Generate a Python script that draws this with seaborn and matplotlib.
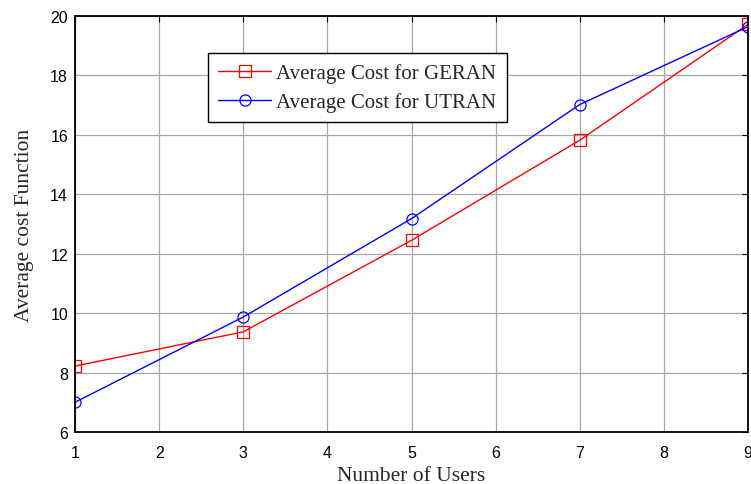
import matplotlib
matplotlib.use("Agg")
import matplotlib.pyplot as plt
import seaborn as sns
import pandas as pd

users = [1, 3, 5, 7, 9]
geran = [8.22, 9.37, 12.45, 15.82, 19.72]
utran = [7.0, 9.87, 13.18, 17.02, 19.64]
series_names = ["Average Cost for GERAN", "Average Cost for UTRAN"]
x_ticks = [1, 2, 3, 4, 5, 6, 7, 8, 9]
y_ticks = [6, 8, 10, 12, 14, 16, 18, 20]

df = pd.DataFrame({
    "users": users * 2,
    "cost": geran + utran,
    "series": [series_names[0]] * len(users) + [series_names[1]] * len(users),
})

sns.set_style("white")
plt.rcParams["font.family"] = ["Liberation Sans", "DejaVu Sans"]

fig = plt.figure(figsize=(7.51, 4.85), dpi=100)
ax = fig.add_axes([75 / 751, 52 / 485, 673 / 751, 416 / 485])

sns.lineplot(data=df, x="users", y="cost", hue="series", style="series",
             palette={series_names[0]: "#ff0000", series_names[1]: "#0000ff"},
             markers={series_names[0]: "s", series_names[1]: "o"},
             dashes=False, markersize=8, markerfacecolor="none",
             markeredgewidth=0.9, linewidth=1.0, ax=ax)

for line in ax.lines:
    line.set_markerfacecolor("none")
    line.set_markeredgecolor(line.get_color())

ax.set_xlim(1, 9)
ax.set_ylim(6, 20)
ax.set_xticks(x_ticks)
ax.set_yticks(y_ticks)
ax.grid(True, color="#a8a8a8", linewidth=0.9, linestyle="-")
ax.set_axisbelow(True)
for s in ax.spines.values():
    s.set_color("black")
    s.set_linewidth(1.3)
ax.tick_params(direction="in", length=4, width=0.8, labelsize=11.5,
               colors="black", top=True, right=True)
ax.tick_params(axis="x", pad=9.5)
ax.tick_params(axis="y", pad=5)
for lbl in ax.get_xticklabels() + ax.get_yticklabels():
    lbl.set_fontfamily(["Liberation Sans"])

serif = ["Liberation Serif", "DejaVu Serif"]
ax.set_xlabel("Number of Users", fontsize=15.5, family=serif, labelpad=4)
ax.set_ylabel("Average cost Function", fontsize=15.5, family=serif, labelpad=11.5)

handles, labels = ax.get_legend_handles_labels()
for h in handles:
    h.set_markerfacecolor("none")
leg = ax.legend(handles, labels, loc="upper left", bbox_to_anchor=(0.197, 0.911),
                prop={"family": serif, "size": 15}, frameon=True, fancybox=False,
                edgecolor="black", framealpha=1, borderpad=0.5, handlelength=2.55,
                handletextpad=0.25, labelspacing=0.42, borderaxespad=0)
leg.get_frame().set_linewidth(1.0)

fig.savefig("out.png", dpi=100)
